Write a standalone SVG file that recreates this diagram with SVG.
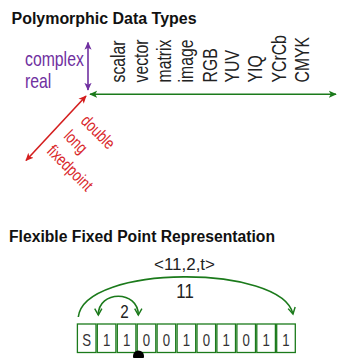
<svg xmlns="http://www.w3.org/2000/svg" width="337" height="358" viewBox="0 0 337 358">
  <style>
    .title { font-family: "Liberation Sans", Arial, sans-serif; font-weight: bold; font-size: 16px; fill: #111; }
    .lbl { font-family: "Liberation Sans", Arial, sans-serif; font-size: 20px; fill: #222; }
    .purple { font-family: "Liberation Sans", Arial, sans-serif; font-size: 20px; fill: #7030A0; }
    .red { font-family: "Liberation Sans", Arial, sans-serif; font-size: 17px; fill: #D9262A; }
    .num { font-family: "Liberation Sans", Arial, sans-serif; font-size: 17px; fill: #222; text-anchor: middle; }
    .big { font-size: 21px; }
    .mid { font-size: 19px; }
    .bit { font-family: "Liberation Sans", Arial, sans-serif; font-size: 16.5px; fill: #333; text-anchor: middle; }
    .box { fill: #fff; stroke: #1B7A1B; stroke-width: 1.3; }
    .arc { fill: none; stroke: #1B7A1B; stroke-width: 1.6; }
  </style>
  <defs>
    <marker id="headPurple" viewBox="0 0 10 10" refX="9" refY="5" markerWidth="8" markerHeight="8" markerUnits="userSpaceOnUse" orient="auto-start-reverse">
      <path d="M0,0.5 L10,5 L0,9.5 L2.5,5 z" fill="#7030A0"/>
    </marker>
    <marker id="headGreen" viewBox="0 0 10 10" refX="9" refY="5" markerWidth="8" markerHeight="8" markerUnits="userSpaceOnUse" orient="auto-start-reverse">
      <path d="M0,0.5 L10,5 L0,9.5 L2.5,5 z" fill="#1B7A1B"/>
    </marker>
    <marker id="headRed" viewBox="0 0 10 10" refX="9" refY="5" markerWidth="8" markerHeight="8" markerUnits="userSpaceOnUse" orient="auto-start-reverse">
      <path d="M0,0.5 L10,5 L0,9.5 L2.5,5 z" fill="#D41E1E"/>
    </marker>
    <marker id="chev" viewBox="0 0 10 10" refX="8" refY="5" markerWidth="9" markerHeight="9" markerUnits="userSpaceOnUse" orient="auto-start-reverse">
      <path d="M1,1 L8,5 L1,9" fill="none" stroke="#1B7A1B" stroke-width="1.6"/>
    </marker>
  </defs>

  <!-- Section 1: polymorphic data types -->
  <text class="title" x="11.5" y="24" textLength="185" lengthAdjust="spacingAndGlyphs">Polymorphic Data Types</text>

  <g id="connectors">
    <line x1="88" y1="42.5" x2="88" y2="90" stroke="#7030A0" stroke-width="1.6" marker-start="url(#headPurple)" marker-end="url(#headPurple)"/>
    <line x1="90" y1="94.3" x2="336" y2="94.3" stroke="#1B7A1B" stroke-width="1.6" marker-start="url(#headGreen)" marker-end="url(#headGreen)"/>
    <line x1="86" y1="96" x2="26" y2="160.5" stroke="#D41E1E" stroke-width="1.6" marker-start="url(#headRed)" marker-end="url(#headRed)"/>
  </g>

  <g id="complexity-axis">
    <text class="purple" transform="translate(25,66) scale(0.79,1)">complex</text>
    <text class="purple" transform="translate(25,88) scale(0.79,1)">real</text>
  </g>

  <g id="structure-axis">
    <text class="lbl" transform="translate(124.5,82.5) rotate(-90) scale(0.79,1)">scalar</text>
    <text class="lbl" transform="translate(147.5,82.5) rotate(-90) scale(0.79,1)">vector</text>
    <text class="lbl" transform="translate(170.5,82.5) rotate(-90) scale(0.79,1)">matrix</text>
    <text class="lbl" transform="translate(192.5,82.5) rotate(-90) scale(0.79,1)">image</text>
    <text class="lbl" transform="translate(216.5,82.5) rotate(-90) scale(0.79,1)">RGB</text>
    <text class="lbl" transform="translate(239,82.5) rotate(-90) scale(0.79,1)">YUV</text>
    <text class="lbl" transform="translate(262,82.5) rotate(-90) scale(0.79,1)">YIQ</text>
    <text class="lbl" transform="translate(285.5,82.5) rotate(-90) scale(0.79,1)">YCrCb</text>
    <text class="lbl" transform="translate(309,82.5) rotate(-90) scale(0.79,1)">CMYK</text>
  </g>

  <g id="precision-axis">
    <text class="red" transform="translate(80,122) rotate(45) scale(0.78,1)">double</text>
    <text class="red" transform="translate(63,137) rotate(45) scale(0.78,1)">long</text>
    <text class="red" transform="translate(46,152) rotate(45) scale(0.78,1)">fixedpoint</text>
  </g>

  <!-- Section 2: flexible fixed point -->
  <text class="title" x="9" y="241.5" textLength="266" lengthAdjust="spacingAndGlyphs">Flexible Fixed Point Representation</text>

  <g id="format-label">
    <text class="num" x="184.5" y="270" textLength="61" lengthAdjust="spacingAndGlyphs">&lt;11,2,t&gt;</text>
  </g>

  <g id="span-arcs">
    <path class="arc" d="M78.3,317 C84,264 282,264 293,314" marker-end="url(#chev)"/>
    <path class="arc" d="M98.3,315 C98.3,290 138.3,290 138.3,315" marker-start="url(#chev)" marker-end="url(#chev)"/>
    <text class="num big" transform="translate(185,298) scale(0.8,1)">11</text>
    <text class="num mid" transform="translate(124.5,318) scale(0.8,1)">2</text>
  </g>

  <g id="bits">
    <rect class="box" x="77.4" y="324" width="18.6" height="28.5"/>
    <rect class="box" x="97.3" y="324" width="18.6" height="28.5"/>
    <rect class="box" x="117.3" y="324" width="18.6" height="28.5"/>
    <rect class="box" x="137.2" y="324" width="18.6" height="28.5"/>
    <rect class="box" x="157.1" y="324" width="18.6" height="28.5"/>
    <rect class="box" x="177.1" y="324" width="18.6" height="28.5"/>
    <rect class="box" x="197.0" y="324" width="18.6" height="28.5"/>
    <rect class="box" x="216.9" y="324" width="18.6" height="28.5"/>
    <rect class="box" x="236.9" y="324" width="18.6" height="28.5"/>
    <rect class="box" x="256.8" y="324" width="18.6" height="28.5"/>
    <rect class="box" x="276.7" y="324" width="18.6" height="28.5"/>
    <text class="bit" transform="translate(86.7,345.5) scale(0.8,1)">S</text>
    <text class="bit" transform="translate(106.6,345.5) scale(0.8,1)">1</text>
    <text class="bit" transform="translate(126.6,345.5) scale(0.8,1)">1</text>
    <text class="bit" transform="translate(146.5,345.5) scale(0.8,1)">0</text>
    <text class="bit" transform="translate(166.4,345.5) scale(0.8,1)">0</text>
    <text class="bit" transform="translate(186.4,345.5) scale(0.8,1)">1</text>
    <text class="bit" transform="translate(206.3,345.5) scale(0.8,1)">0</text>
    <text class="bit" transform="translate(226.2,345.5) scale(0.8,1)">1</text>
    <text class="bit" transform="translate(246.2,345.5) scale(0.8,1)">0</text>
    <text class="bit" transform="translate(266.1,345.5) scale(0.8,1)">1</text>
    <text class="bit" transform="translate(286.0,345.5) scale(0.8,1)">1</text>
  </g>

  <g id="binary-point">
    <circle cx="138.5" cy="356" r="5.5" fill="#000"/>
  </g>
</svg>
